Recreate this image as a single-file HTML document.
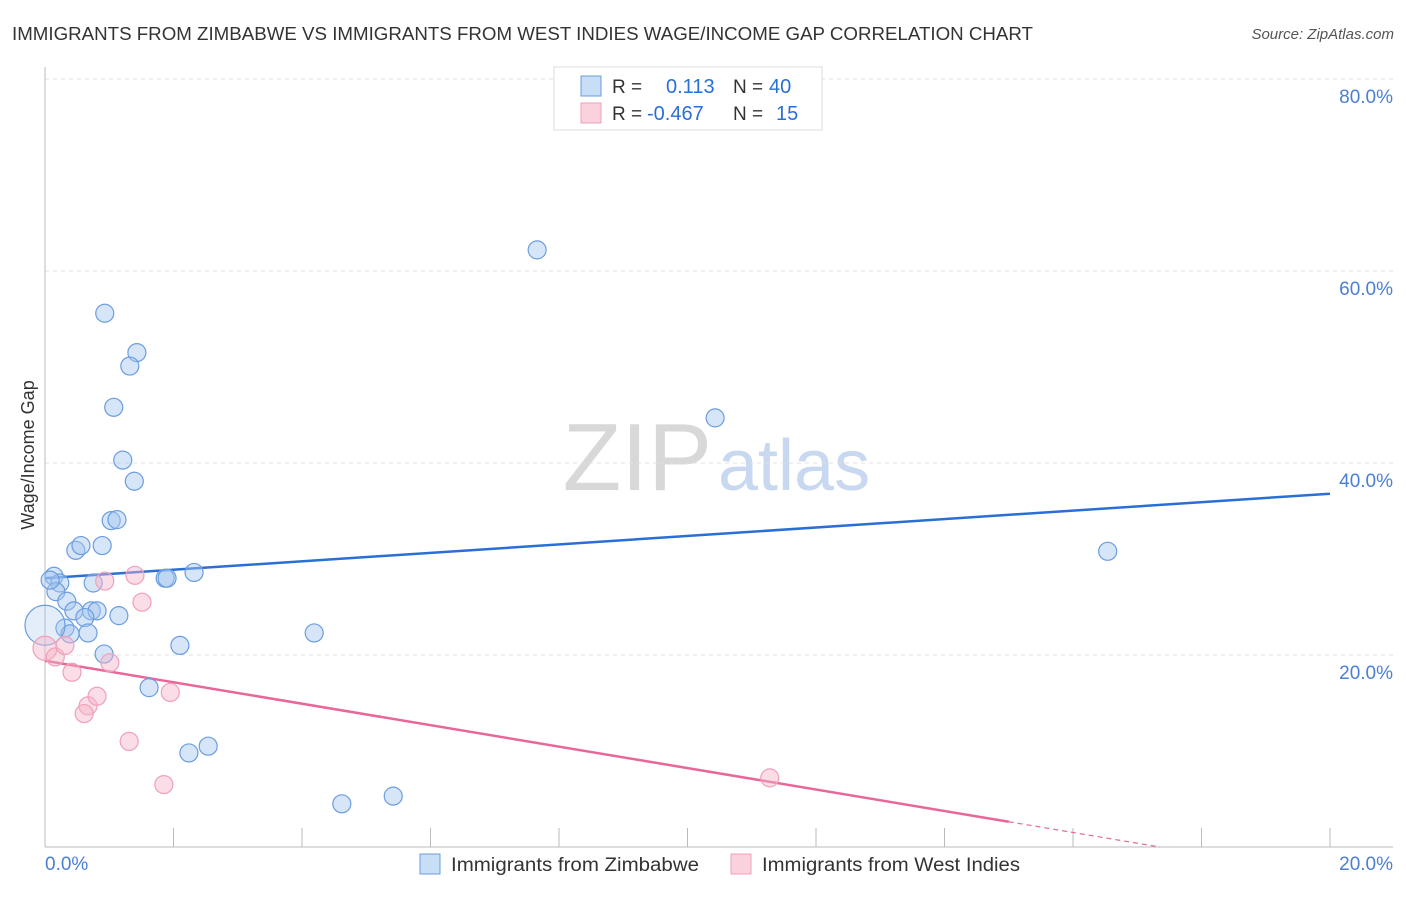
<!DOCTYPE html>
<html><head><meta charset="utf-8"><style>
body{margin:0;background:#fff;font-family:"Liberation Sans",sans-serif;}
svg text{font-family:"Liberation Sans",sans-serif;}
</style></head><body>
<svg id="chart" width="1406" height="892" xmlns="http://www.w3.org/2000/svg">
<text x="12" y="40" font-size="18" fill="#333" textLength="1021" lengthAdjust="spacingAndGlyphs">IMMIGRANTS FROM ZIMBABWE VS IMMIGRANTS FROM WEST INDIES WAGE/INCOME GAP CORRELATION CHART</text>
<text x="1394" y="39" font-size="15" fill="#555" font-style="italic" text-anchor="end">Source: ZipAtlas.com</text>
<text x="712" y="490" font-size="96" fill="#d8d8d8" font-family="Liberation Serif" text-anchor="end">ZIP</text>
<text x="718" y="490" font-size="72" fill="#c8d8f0">atlas</text>
<g id="grid"></g>
<g id="axes"></g>
<g id="trend"></g>
<g id="points"></g>
<text transform="translate(34,455) rotate(-90)" font-size="18" fill="#333" text-anchor="middle">Wage/Income Gap</text>
<g>
<rect x="554" y="67" width="268" height="63" fill="#fff" stroke="#ddd"/>
<rect x="581" y="76" width="20" height="20" fill="rgba(164,198,240,0.6)" stroke="#6a9de0"/>
<rect x="581" y="103" width="20" height="20" fill="rgba(245,180,200,0.6)" stroke="#f0a0b8"/>
<text x="612" y="93" font-size="19" fill="#333">R = </text><text x="666" y="93" font-size="20" fill="#2a6fd6">0.113</text>
<text x="733" y="93" font-size="19" fill="#333">N = </text><text x="769" y="93" font-size="20" fill="#2a6fd6">40</text>
<text x="612" y="120" font-size="19" fill="#333">R = </text><text x="647" y="120" font-size="20" fill="#2a6fd6">-0.467</text>
<text x="733" y="120" font-size="19" fill="#333">N = </text><text x="776" y="120" font-size="20" fill="#2a6fd6">15</text>
</g>
<g>
<rect x="420" y="854" width="20" height="20" fill="rgba(164,198,240,0.6)" stroke="#6a9de0"/>
<text x="451" y="871" font-size="19" fill="#333" textLength="248" lengthAdjust="spacingAndGlyphs">Immigrants from Zimbabwe</text>
<rect x="731" y="854" width="20" height="20" fill="rgba(245,180,200,0.6)" stroke="#f0a0b8"/>
<text x="762" y="871" font-size="19" fill="#333" textLength="258" lengthAdjust="spacingAndGlyphs">Immigrants from West Indies</text>
</g>
</svg>
<script>
const blueX=[0.93,1.43,1.32,1.07,1.21,1.39,1.03,1.12,0.48,0.56,0.89,0.14,0.23,0.75,0.17,0.34,0.45,0.72,0.81,0.62,1.15,0.31,0.39,0.67,1.87,1.90,2.32,2.10,0.92,1.62,2.24,2.54,4.62,5.42,7.66,10.43,16.54,4.19,0.0,0.08];
const blueY=[55.6,51.5,50.1,45.8,40.3,38.1,34.0,34.1,30.9,31.4,31.4,28.2,27.5,27.5,26.6,25.6,24.6,24.6,24.6,23.9,24.1,22.8,22.2,22.3,28.0,28.0,28.6,21.0,20.1,16.6,9.8,10.5,4.5,5.3,62.2,44.7,30.8,22.3,23.1,27.8];
const blueR=[9,9,9,9,9,9,9,9,9,9,9,9,9,9,9,9,9,9,9,9,9,9,9,9,9,9,9,9,9,9,9,9,9,9,9,9,9,9,20,9];
const pinkX=[0,0.16,0.31,0.42,0.67,0.61,0.81,0.93,1.01,1.40,1.51,1.31,1.95,1.85,11.28];
const pinkY=[20.7,19.8,21.0,18.2,14.7,13.9,15.7,27.7,19.2,28.3,25.5,11.0,16.1,6.5,7.2];
const pinkR=[12,9,9,9,9,9,9,9,9,9,9,9,9,9,9];
const yTicks=[20,40,60,80];
const xTickVals=[0,2,4,6,8,10,12,14,16,18,20];
const blueTrend=[28.0,36.8];
const pinkTrend=[19.4,-1.118];
const NS="http://www.w3.org/2000/svg";
const sx=v=>45+v*64.25, sy=v=>847-v*9.6;
function mk(tag,attrs,parent){const e=document.createElementNS(NS,tag);for(const k in attrs)e.setAttribute(k,attrs[k]);document.getElementById(parent).appendChild(e);return e;}
mk('line',{x1:45,y1:79,x2:1393,y2:79,stroke:'#ddd','stroke-dasharray':'4,4'},'grid');
yTicks.forEach(t=>{
 const l=mk('line',{x1:45,y1:sy(t),x2:1393,y2:sy(t),stroke:'#e0e0e0','stroke-dasharray':'4,4'},'grid');
 
 
 const tx=mk('text',{x:1393,y:sy(t)+24,'font-size':19,fill:'#4a7fd4','text-anchor':'end'},'grid');
 tx.textContent=t.toFixed(1)+'%';
 
 
});
mk('line',{x1:45,y1:67,x2:45,y2:847,stroke:'#bbb'},'axes');
mk('line',{x1:45,y1:847,x2:1393,y2:847,stroke:'#bbb'},'axes');
xTickVals.forEach(t=>{
 const l=mk('line',{x1:sx(t),y1:828,x2:sx(t),y2:847,stroke:'#bbb'},'axes');
 
 
});
const xl0=mk('text',{x:45,y:870,'font-size':19,fill:'#4a7fd4'},'axes');xl0.textContent='0.0%';


const xl1=mk('text',{x:1393,y:870,'font-size':19,fill:'#4a7fd4','text-anchor':'end'},'axes');xl1.textContent='20.0%';


const bt=mk('line',{x1:sx(0),y1:sy(blueTrend[0]),x2:sx(20),y2:sy(blueTrend[1]),stroke:'#2a6fd6','stroke-width':2.5},'trend');


const pf=x=>pinkTrend[0]+pinkTrend[1]*x;
const pt=mk('line',{x1:sx(0),y1:sy(pf(0)),x2:sx(15),y2:sy(pf(15)),stroke:'#e8679a','stroke-width':2.5},'trend');


const xz=-pinkTrend[0]/pinkTrend[1];
const pd=mk('line',{x1:sx(15),y1:sy(pf(15)),x2:sx(xz),y2:sy(0),stroke:'#e8679a','stroke-width':1.2,'stroke-dasharray':'5,4'},'trend');


blueX.forEach((x,i)=>{
 const c=mk('circle',{cx:sx(x),cy:sy(blueY[i]),r:blueR[i],fill:blueR[i]>12?'rgba(164,198,240,0.3)':'rgba(164,198,240,0.45)',stroke:'#6a9de0','stroke-width':1.2},'points');
 
 
});
pinkX.forEach((x,i)=>{
 const c=mk('circle',{cx:sx(x),cy:sy(pinkY[i]),r:pinkR[i],fill:'rgba(245,180,200,0.45)',stroke:'#f0a0b8','stroke-width':1.2},'points');
 
 
});
</script>
</body></html>
